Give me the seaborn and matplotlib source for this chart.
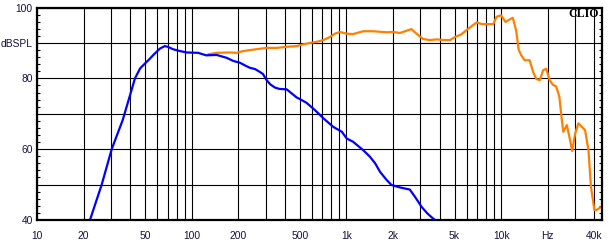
import matplotlib
matplotlib.use("Agg")
import matplotlib.pyplot as plt
import numpy as np
import pandas as pd
import seaborn as sns
from matplotlib.ticker import NullLocator, FixedLocator

# ---- data ----
woofer_freq = [22, 26.2, 30.4, 35.8, 43, 46.4, 49.9, 53, 56.5, 62.3, 67, 70, 76, 84, 93,
               110, 124, 145, 168, 186, 205, 222, 237, 257, 276, 289, 305, 322, 345, 370,
               411, 444, 477, 502, 552, 609, 659, 711, 822, 935, 1005, 1104, 1285, 1417,
               1534, 1650, 1820, 1955, 2215, 2570, 2770, 2910, 3050, 3330, 3550, 3735]
woofer_db = [40, 50, 60, 68.2, 80, 82.8, 84.2, 85.3, 86.6, 88.4, 89.1, 88.9, 88.2, 87.7, 87.3,
             87.2, 86.5, 86.6, 85.8, 84.9, 84.4, 83.6, 83.0, 82.6, 81.8, 81.2, 79.5, 78.3, 77.4, 77.0,
             76.9, 75.7, 74.6, 74.1, 73.1, 71.5, 70.1, 68.7, 66.3, 64.9, 63.0, 62.1, 59.7, 57.9,
             56.0, 53.6, 51.3, 49.9, 49.2, 48.6, 46.6, 45.2, 43.8, 41.9, 40.8, 40.0]

tweeter_freq = [128, 145, 176, 195, 215, 250, 305, 355, 411, 477, 527, 582, 641, 711, 785,
                843, 907, 1005, 1104, 1285, 1490, 1820, 2010, 2215, 2630, 2840, 3130, 3470,
                3840, 4240, 4680, 5040, 5530, 5970, 6960, 7500, 8900, 9350, 10000, 10680,
                11330, 11900, 12500, 13000, 13500, 14200, 15300, 16100, 16900, 17800, 18700,
                19600, 20600, 21600, 22700, 23800, 24700, 25240, 26600, 27900, 28800, 30100,
                31600, 33300, 34900, 36700, 38100, 40100, 41400, 43900]
tweeter_db = [86.8, 87.2, 87.3, 87.2, 87.7, 88.1, 88.6, 88.6, 88.9, 89.1, 89.6, 90.0, 90.3, 90.8, 91.7,
              92.6, 93.1, 92.6, 92.5, 93.3, 93.3, 93.0, 93.1, 92.8, 93.9, 92.6, 91.1, 90.8,
              91.0, 90.8, 90.8, 91.7, 92.4, 93.6, 95.8, 95.3, 95.3, 97.4, 97.8, 95.9,
              96.6, 97.1, 93.6, 88.0, 86.5, 85.1, 85.1, 81.8, 79.8, 79.5, 82.3,
              82.7, 79.5, 78.2, 77.7, 74.8, 68.2, 64.9, 66.8, 62.6, 59.5, 64.4,
              67.3, 66.3, 65.4, 59.7, 49.4, 42.8, 42.8, 43.6]

grid_freqs = [10, 20, 30, 40, 50, 60, 70, 80, 90,
              100, 200, 300, 400, 500, 600, 700, 800, 900,
              1000, 2000, 3000, 4000, 5000, 6000, 7000, 8000, 9000,
              10000, 20000, 30000, 40000]
x_labels = {10: "10", 20: "20", 50: "50", 100: "100", 200: "200", 500: "500",
            1000: "1k", 2000: "2k", 5000: "5k", 10000: "10k", 20000: "Hz", 40000: "40k"}
y_grid = [40, 50, 60, 70, 80, 90, 100]
y_labels = {40: "40", 60: "60", 80: "80", 90: "dBSPL", 100: "100"}

# ---- plotting ----
sns.set_theme(style="white")
plt.rcParams["font.family"] = ["Liberation Sans", "DejaVu Sans"]

fig = plt.figure(figsize=(6.09, 2.44), dpi=100)
fig.patch.set_facecolor("white")
ax = fig.add_axes([37 / 609, 1 - 220 / 244, 565 / 609, 212.5 / 244])
ax.set_facecolor("white")

tw = pd.DataFrame({"f": tweeter_freq, "db": tweeter_db})
wf = pd.DataFrame({"f": woofer_freq, "db": woofer_db})
sns.lineplot(data=tw, x="f", y="db", color="#FF8000", lw=1.6, ax=ax, zorder=3)
sns.lineplot(data=wf, x="f", y="db", color="#0000FF", lw=1.6, ax=ax, zorder=3)

ax.set_xscale("log")
ax.set_xlim(10, 44900)
ax.set_ylim(40, 100)
ax.set_xlabel("")
ax.set_ylabel("")

ax.xaxis.set_major_locator(FixedLocator(grid_freqs))
ax.xaxis.set_minor_locator(NullLocator())
ax.set_xticklabels([x_labels.get(f, "") for f in grid_freqs])
ax.yaxis.set_major_locator(FixedLocator(y_grid))
ax.set_yticklabels([y_labels.get(v, "") for v in y_grid])
ax.yaxis.set_minor_locator(FixedLocator(np.arange(40, 101, 2)))

label_color = "#1a1040"
ax.tick_params(axis="both", which="major", length=0, labelsize=7.4, labelcolor=label_color)
ax.tick_params(axis="x", which="major", pad=8)
ax.tick_params(axis="y", which="major", pad=3)
ax.tick_params(axis="y", which="minor", direction="in", left=True, right=True,
               length=2.5, width=0.8, color="black")

ax.grid(True, which="major", color="black", lw=0.8, zorder=1)
ax.set_axisbelow(True)
for s in ax.spines.values():
    s.set_visible(True)
    s.set_color("black")
    s.set_linewidth(1.6)
    s.set_zorder(4)

ax.text(0.9947, 0.968, "CLIO", transform=ax.transAxes, ha="right", va="center",
        fontsize=8.6, fontweight="bold", family=["Liberation Serif", "DejaVu Serif"],
        color="black", zorder=5)

fig.savefig("out.png", dpi=100, facecolor="white")
